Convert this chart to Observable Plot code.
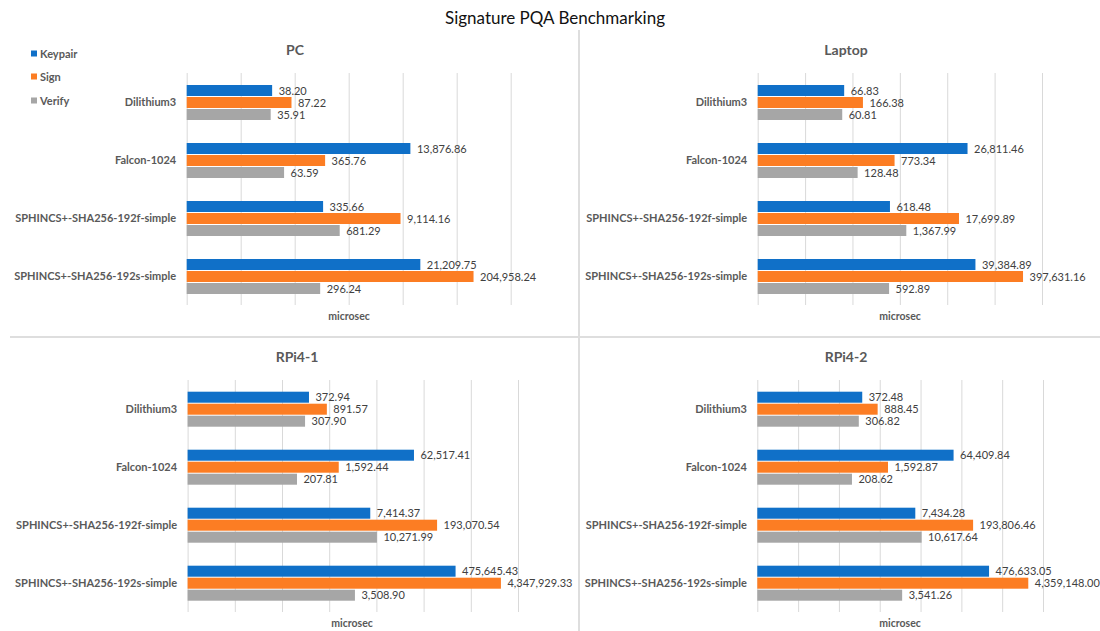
<!DOCTYPE html>
<html>
<head>
<meta charset="utf-8">
<script src="https://cdn.jsdelivr.net/npm/d3@7"></script>
<script src="https://cdn.jsdelivr.net/npm/@observablehq/plot@0.6"></script>
<style>
  html, body { margin: 0; padding: 0; background: #ffffff; }
  #page { position: relative; width: 1100px; height: 631px; overflow: hidden; font-family: Lato, "Open Sans", sans-serif; }
  .abs { position: absolute; }
  .center { transform: translate(-50%, -50%); white-space: nowrap; }
  .title { font-size: 17px; color: #111; }
  .ptitle { font-size: 14px; font-weight: bold; color: #595959; }
  .axlab { font-size: 10.5px; font-weight: bold; color: #595959; }
  .leg { font-size: 11px; font-weight: bold; color: #595959; display: flex; align-items: center; transform: translateY(-50%); }
  .sw { width: 6px; height: 6px; margin-right: 3px; }
  .div { background: #dedede; }
  svg { overflow: visible; }
</style>
</head>
<body>
<div id="page"></div>
<script>
// ---- data ----
const algorithms = ["Dilithium3", "Falcon-1024", "SPHINCS+-SHA256-192f-simple", "SPHINCS+-SHA256-192s-simple"];
const seriesNames = ["Keypair", "Sign", "Verify"];
const seriesColors = ["#1070c8", "#fc7d23", "#a6a6a6"];

const pcKeypair = [38.20, 13876.86, 335.66, 21209.75];
const pcSign = [87.22, 365.76, 9114.16, 204958.24];
const pcVerify = [35.91, 63.59, 681.29, 296.24];

const laptopKeypair = [66.83, 26811.46, 618.48, 39384.89];
const laptopSign = [166.38, 773.34, 17699.89, 397631.16];
const laptopVerify = [60.81, 128.48, 1367.99, 592.89];

const rpi1Keypair = [372.94, 62517.41, 7414.37, 475645.43];
const rpi1Sign = [891.57, 1592.44, 193070.54, 4347929.33];
const rpi1Verify = [307.90, 207.81, 10271.99, 3508.90];

const rpi2Keypair = [372.48, 64409.84, 7434.28, 476633.05];
const rpi2Sign = [888.45, 1592.87, 193806.46, 4359148.00];
const rpi2Verify = [306.82, 208.62, 10617.64, 3541.26];

const topGridTicks = [1, 10, 100, 1000, 10000, 100000, 1000000];
const bottomGridTicks = [1, 10, 100, 1000, 10000, 100000, 1000000, 10000000];

const chartTitle = "Signature PQA Benchmarking";
const axisLabel = "microsec";

// ---- layout ----
const page = document.getElementById("page");
const fmt = d3.format(",.2f");

function addDiv(cls, left, top, text, extra) {
  const el = document.createElement("div");
  el.className = "abs " + cls;
  el.style.left = left + "px";
  el.style.top = top + "px";
  if (text != null) el.textContent = text;
  if (extra) Object.assign(el.style, extra);
  page.appendChild(el);
  return el;
}

// dividers
addDiv("div", 578, 30, null, {width: "2px", height: "601px"});
addDiv("div", 10, 336, null, {width: "1090px", height: "2px"});

// title
addDiv("title center", 555, 17, chartTitle);

// legend
const legendY = [53, 76, 100];
seriesNames.forEach((s, i) => {
  const el = addDiv("leg", 31, legendY[i], null);
  const sw = document.createElement("div");
  sw.className = "sw";
  sw.style.background = seriesColors[i];
  el.appendChild(sw);
  const t = document.createElement("span");
  t.textContent = s;
  el.appendChild(t);
});

function panel(cfg) {
  const data = [];
  algorithms.forEach((a, i) => {
    data.push({algo: a, series: "Keypair", value: cfg.keypair[i]});
    data.push({algo: a, series: "Sign", value: cfg.sign[i]});
    data.push({algo: a, series: "Verify", value: cfg.verify[i]});
  });
  const ticks = cfg.ticks;
  const lo = ticks[0], hi = ticks[ticks.length - 1];
  const plot = Plot.plot({
    width: cfg.width,
    height: cfg.height,
    marginLeft: cfg.ml,
    marginRight: cfg.mr,
    marginTop: cfg.mt,
    marginBottom: cfg.mb,
    x: {type: "log", domain: [lo, hi], axis: null},
    y: {domain: seriesNames, paddingInner: 0.1, paddingOuter: 0.85, axis: null},
    fy: {domain: algorithms, padding: 0, label: null},
    color: {domain: seriesNames, range: seriesColors},
    style: {fontFamily: "Lato, 'Open Sans', sans-serif", color: "#595959", background: "transparent", overflow: "visible"},
    marks: [
      Plot.gridX(ticks, {stroke: "#d9d9d9", strokeOpacity: 1, strokeWidth: 1}),
      Plot.barX(data, {x1: () => lo, x2: "value", y: "series", fy: "algo", fill: "series"}),
      Plot.text(data, {x: "value", y: "series", fy: "algo", text: d => fmt(d.value), dx: 6, textAnchor: "start", fill: "#404040", fontSize: 11}),
      Plot.axisFy({anchor: "left", tickSize: 0, tickPadding: 11, fontWeight: "bold", fontSize: 11, label: null})
    ]
  });
  plot.style.position = "absolute";
  plot.style.left = cfg.left + "px";
  plot.style.top = cfg.top + "px";
  page.appendChild(plot);
  addDiv("ptitle center", cfg.titleX, cfg.titleY, cfg.title);
  addDiv("axlab center", cfg.labX, cfg.labY, axisLabel);
}

panel({title: "PC", keypair: pcKeypair, sign: pcSign, verify: pcVerify, ticks: topGridTicks,
  left: 0, top: 30, width: 578, height: 306, ml: 186.7, mr: 67.3, mt: 41, mb: 30,
  titleX: 295, titleY: 49, labX: 349, labY: 316});
panel({title: "Laptop", keypair: laptopKeypair, sign: laptopSign, verify: laptopVerify, ticks: topGridTicks,
  left: 580, top: 30, width: 520, height: 306, ml: 177.7, mr: 58, mt: 41, mb: 30,
  titleX: 846, titleY: 49, labX: 900, labY: 316});
panel({title: "RPi4-1", keypair: rpi1Keypair, sign: rpi1Sign, verify: rpi1Verify, ticks: bottomGridTicks,
  left: 0, top: 338, width: 578, height: 293, ml: 187.6, mr: 60, mt: 41.3, mb: 17.7,
  titleX: 297, titleY: 356, labX: 352, labY: 623});
panel({title: "RPi4-2", keypair: rpi2Keypair, sign: rpi2Sign, verify: rpi2Verify, ticks: bottomGridTicks,
  left: 580, top: 338, width: 520, height: 293, ml: 177.3, mr: 57, mt: 41.3, mb: 17.7,
  titleX: 846, titleY: 356, labX: 900, labY: 623});
</script>
</body>
</html>
